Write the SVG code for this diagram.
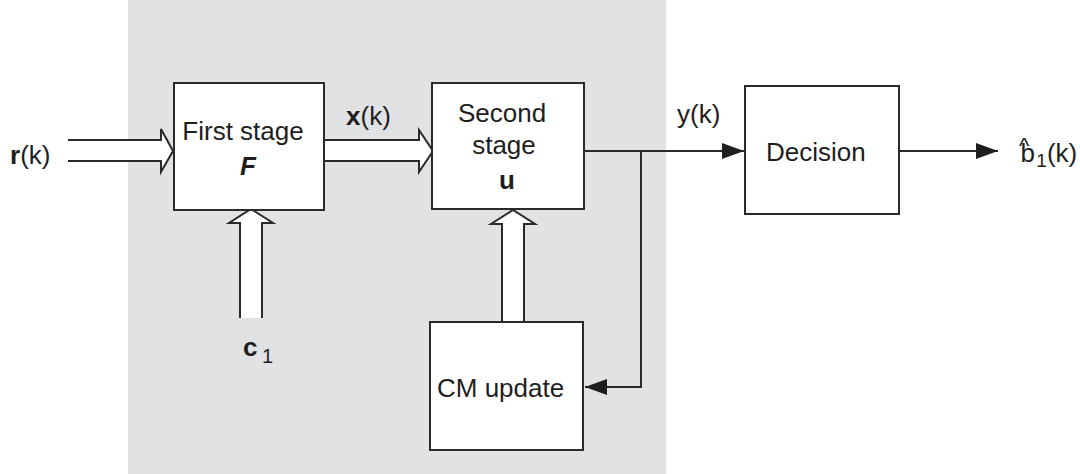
<svg xmlns="http://www.w3.org/2000/svg" width="1080" height="474" viewBox="0 0 1080 474">
<defs>
<style>
.box{fill:#fff;stroke:#2a2a2a;stroke-width:2}
.t{font-family:"Liberation Sans",Arial,sans-serif;font-size:26px;fill:#1e1e1e}
.b{font-weight:bold}
.line{fill:none;stroke:#2a2a2a;stroke-width:2}
.hollow{fill:#fff;stroke:#2a2a2a;stroke-width:2;stroke-linejoin:miter}
</style>
<marker id="ah" markerWidth="22" markerHeight="16" refX="22" refY="8" orient="auto" markerUnits="userSpaceOnUse">
<path d="M0,0 L22,8 L0,16 Z" fill="#1e1e1e"/>
</marker>
</defs>
<rect width="1080" height="474" fill="#fff"/>
<rect x="128" y="0" width="538" height="474" fill="#e1e2e4"/>

<g id="connectors">
<path class="hollow" d="M68,140 H161 V129 L173,151 L161,172 V161 H68"/>
<path class="hollow" d="M324,140 H419 V130 L433,151 L419,172 V161 H324"/>
<path class="hollow" d="M240,318 V223 H229 L251,209 L273,223 H262 V318"/>
<path class="hollow" d="M502,322 V224 H491 L513,210 L535,224 H524 V322"/>
<line class="line" x1="584" y1="151" x2="744" y2="151" marker-end="url(#ah)"/>
<polyline class="line" points="641,151 641,387 585,387" marker-end="url(#ah)"/>
<line class="line" x1="899" y1="151" x2="998" y2="151" marker-end="url(#ah)"/>
</g>

<g id="first-stage">
<rect class="box" x="174" y="83" width="150" height="127"/>
<text class="t" x="243" y="140" text-anchor="middle">First stage</text>
<text class="t b" x="248" y="175" text-anchor="middle" font-style="italic">F</text>
</g>

<g id="second-stage">
<rect class="box" x="432" y="83" width="152" height="126"/>
<text class="t" x="502" y="122" text-anchor="middle">Second</text>
<text class="t" x="504" y="154" text-anchor="middle">stage</text>
<text class="t b" x="507" y="189" text-anchor="middle">u</text>
</g>

<g id="cm-update">
<rect class="box" x="430" y="322" width="153" height="128"/>
<text class="t" x="437" y="397">CM update</text>
</g>

<g id="decision">
<rect class="box" x="745" y="86" width="154" height="128"/>
<text class="t" x="766" y="161">Decision</text>
</g>

<g id="labels">
<text class="t" x="10" y="164"><tspan class="b">r</tspan>(k)</text>
<text class="t" x="346" y="125"><tspan class="b">x</tspan>(k)</text>
<text class="t" x="677" y="123">y(k)</text>
<text class="t" x="243" y="356"><tspan class="b">c</tspan><tspan dx="4.5" dy="7" font-size="20">1</tspan></text>
<text class="t" x="1019" y="162">b<tspan dx="-16" dy="-9" font-size="22">^</tspan><tspan dx="7" dy="14" font-size="19">1</tspan><tspan dy="-5">(k)</tspan></text>
</g>
</svg>
